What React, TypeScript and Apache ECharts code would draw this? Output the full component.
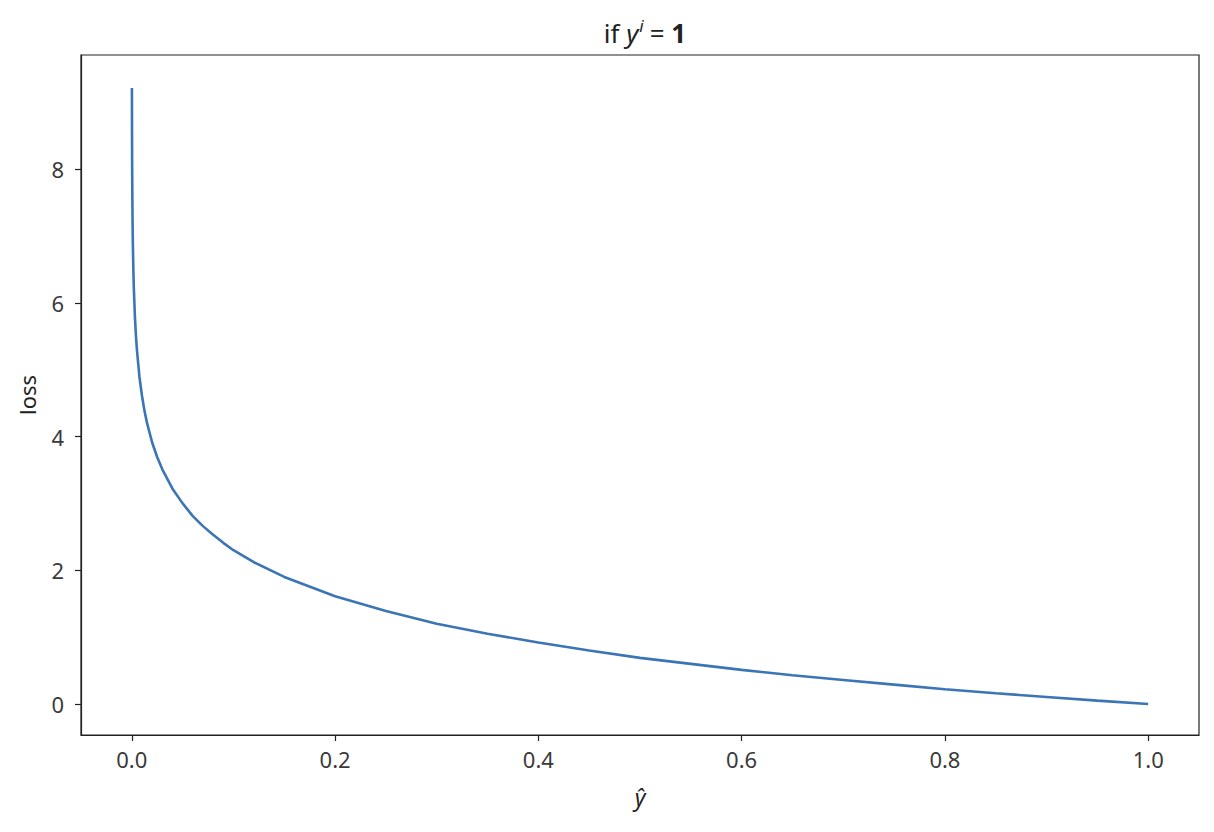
import React, { useEffect, useRef } from "react";
import * as echarts from "echarts";

const xValues = [0.0001, 0.0002, 0.0003, 0.0005, 0.00075, 0.001, 0.0015, 0.002, 0.003, 0.004, 0.005, 0.0075, 0.01, 0.0125, 0.015, 0.02, 0.025, 0.03, 0.04, 0.05, 0.06, 0.07, 0.08, 0.09, 0.1, 0.12, 0.15, 0.2, 0.25, 0.3, 0.35, 0.4, 0.45, 0.5, 0.55, 0.6, 0.65, 0.7, 0.75, 0.8, 0.85, 0.9, 0.95, 1.0];
const lossValues = [9.21, 8.52, 8.11, 7.6, 7.19, 6.91, 6.5, 6.21, 5.81, 5.52, 5.3, 4.89, 4.61, 4.38, 4.2, 3.91, 3.69, 3.51, 3.22, 3.0, 2.81, 2.66, 2.53, 2.41, 2.3, 2.12, 1.9, 1.61, 1.39, 1.2, 1.05, 0.92, 0.8, 0.69, 0.6, 0.51, 0.43, 0.36, 0.29, 0.22, 0.16, 0.105, 0.05, 0.0];
const xTicks = [0, 0.2, 0.4, 0.6, 0.8, 1.0];
const yTicks = [0, 2, 4, 6, 8];

const FONT = "'Noto Sans', 'Open Sans', sans-serif";

export default function App() {
  const ref = useRef<HTMLDivElement>(null);
  useEffect(() => {
    if (!ref.current) return;
    const chart = echarts.init(ref.current, null, { renderer: "svg" });
    chart.setOption({
      animation: false,
      backgroundColor: "#ffffff",
      textStyle: { fontFamily: FONT },
      title: {
        text: "{a|if }{y|y}{s|i}{a|= }{b|1}",
        left: 640,
        textAlign: "center",
        top: 12,
        textStyle: {
          fontWeight: "normal",
          rich: {
            a: { fontSize: 26, color: "#222", fontWeight: "normal", fontFamily: FONT },
            y: { fontSize: 26, color: "#222", fontWeight: "normal", fontStyle: "italic", fontFamily: FONT },
            s: { fontSize: 17, color: "#222", fontWeight: "normal", fontStyle: "italic", verticalAlign: "top", padding: [0, 6, 14, 1], fontFamily: FONT },
            b: { fontSize: 26, color: "#222", fontWeight: "bold", fontFamily: FONT },
          },
        },
      },
      grid: {
        left: 81,
        right: 15,
        top: 55,
        bottom: 97,
        show: true,
        borderColor: "#222",
        borderWidth: 1.2,
        backgroundColor: "transparent",
      },
      xAxis: {
        type: "value",
        min: -0.05,
        max: 1.05,
        name: "ŷ",
        nameLocation: "middle",
        nameGap: 50,
        nameTextStyle: { fontSize: 23, color: "#222", fontStyle: "italic", fontFamily: FONT },
        axisLine: { show: true, onZero: false, lineStyle: { color: "#222", width: 1.2 } },
        axisTick: { show: true, length: 6, lineStyle: { color: "#222", width: 1.2 }, customValues: xTicks },
        axisLabel: {
          customValues: xTicks,
          formatter: (v: number) => v.toFixed(1),
          fontSize: 22,
          color: "#3a3a3a",
          margin: 13,
          fontFamily: FONT,
        },
        splitLine: { show: false },
      },
      yAxis: {
        type: "value",
        min: -0.4635,
        max: 9.705,
        name: "loss",
        nameLocation: "middle",
        nameGap: 43,
        nameRotate: 90,
        nameTextStyle: { fontSize: 22, color: "#222", fontFamily: FONT },
        axisLine: { show: true, onZero: false, lineStyle: { color: "#222", width: 1.2 } },
        axisTick: { show: true, length: 6, lineStyle: { color: "#222", width: 1.2 }, customValues: yTicks },
        axisLabel: {
          customValues: yTicks,
          formatter: (v: number) => String(v),
          fontSize: 22,
          color: "#3a3a3a",
          margin: 17,
          fontFamily: FONT,
        },
        splitLine: { show: false },
      },
      series: [
        {
          type: "line",
          data: xValues.map((x, i) => [x, lossValues[i]]),
          showSymbol: false,
          smooth: false,
          lineStyle: { color: "#3b75b5", width: 2.6 },
        },
      ],
    });
    return () => chart.dispose();
  }, []);
  return (
    <div
      ref={ref}
      style={{ position: "absolute", left: 0, top: 0, width: 1214, height: 832 }}
    />
  );
}
